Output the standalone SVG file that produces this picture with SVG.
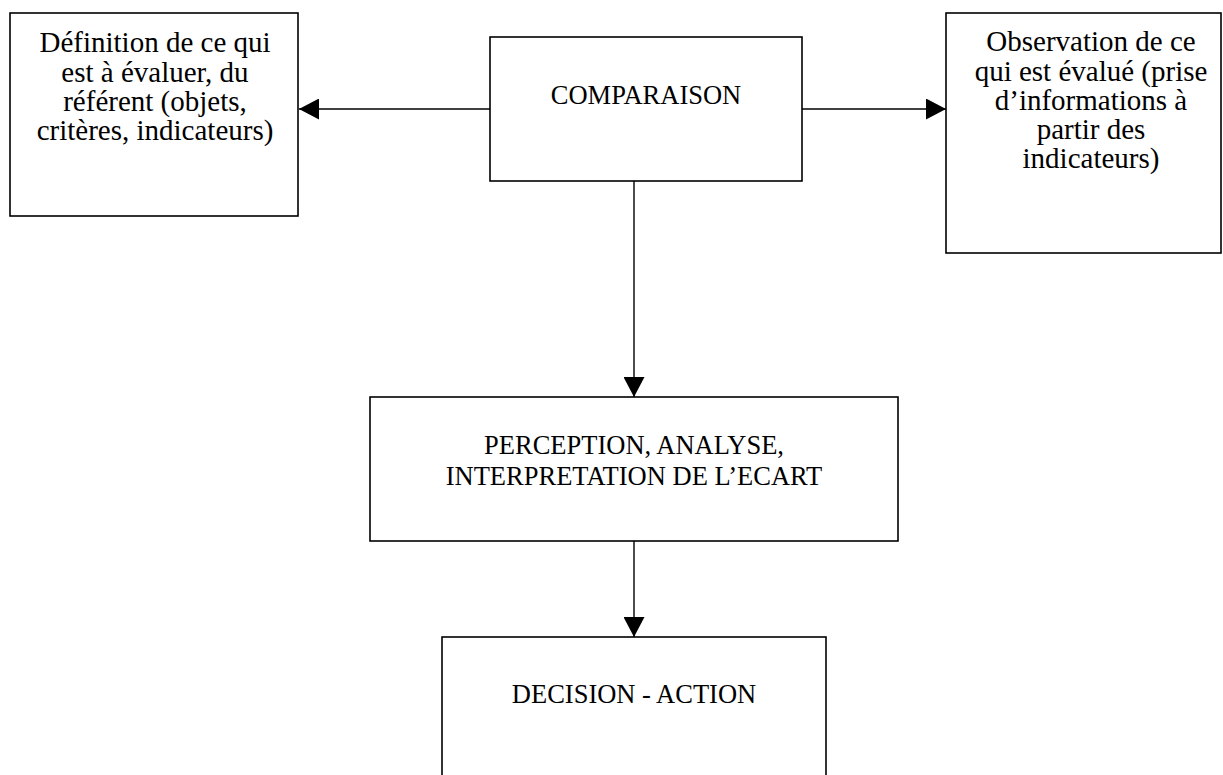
<svg xmlns="http://www.w3.org/2000/svg" width="1223" height="775" viewBox="0 0 1223 775">
  <style>
    .box { fill: #ffffff; stroke: #000000; stroke-width: 1.6; }
    .conn { stroke: #000000; stroke-width: 1.4; fill: none; }
    .t { font-family: "Liberation Serif", "Times New Roman", serif; fill: #000000; text-anchor: middle; }
    .side { font-size: 29px; }
    .caps { font-size: 26.5px; }
  </style>
  <defs>
    <marker id="arrow" markerUnits="userSpaceOnUse" markerWidth="20" markerHeight="21" refX="20" refY="10.5" orient="auto" viewBox="0 0 20 21">
      <path d="M0,0 L20,10.5 L0,21 Z" fill="#000000"/>
    </marker>
  </defs>
  <rect width="1223" height="775" fill="#ffffff"/>

  <g id="connectors">
    <line class="conn" x1="490" y1="109" x2="299" y2="109" marker-end="url(#arrow)"/>
    <line class="conn" x1="802" y1="109" x2="946" y2="109" marker-end="url(#arrow)"/>
    <line class="conn" x1="634" y1="181" x2="634" y2="397" marker-end="url(#arrow)"/>
    <line class="conn" x1="634" y1="541" x2="634" y2="637" marker-end="url(#arrow)"/>
  </g>

  <g id="node-definition">
    <rect class="box" x="10" y="13" width="288" height="203"/>
    <text class="t side" x="155" y="52">Définition de ce qui</text>
    <text class="t side" x="155" y="82">est à évaluer, du</text>
    <text class="t side" x="155" y="111">référent (objets,</text>
    <text class="t side" x="155" y="140">critères, indicateurs)</text>
  </g>

  <g id="node-comparaison">
    <rect class="box" x="490" y="37" width="312" height="144"/>
    <text class="t caps" x="646" y="104">COMPARAISON</text>
  </g>

  <g id="node-observation">
    <rect class="box" x="946" y="13" width="275" height="240"/>
    <text class="t side" x="1091" y="51">Observation de ce</text>
    <text class="t side" x="1091" y="81">qui est évalué (prise</text>
    <text class="t side" x="1091" y="110">d’informations à</text>
    <text class="t side" x="1091" y="139">partir des</text>
    <text class="t side" x="1091" y="168">indicateurs)</text>
  </g>

  <g id="node-perception">
    <rect class="box" x="370" y="397" width="528" height="144"/>
    <text class="t caps" x="634" y="454">PERCEPTION, ANALYSE,</text>
    <text class="t caps" x="634" y="485">INTERPRETATION DE L’ECART</text>
  </g>

  <g id="node-decision">
    <rect class="box" x="442" y="637" width="384" height="160"/>
    <text class="t caps" x="634" y="703">DECISION - ACTION</text>
  </g>
</svg>
